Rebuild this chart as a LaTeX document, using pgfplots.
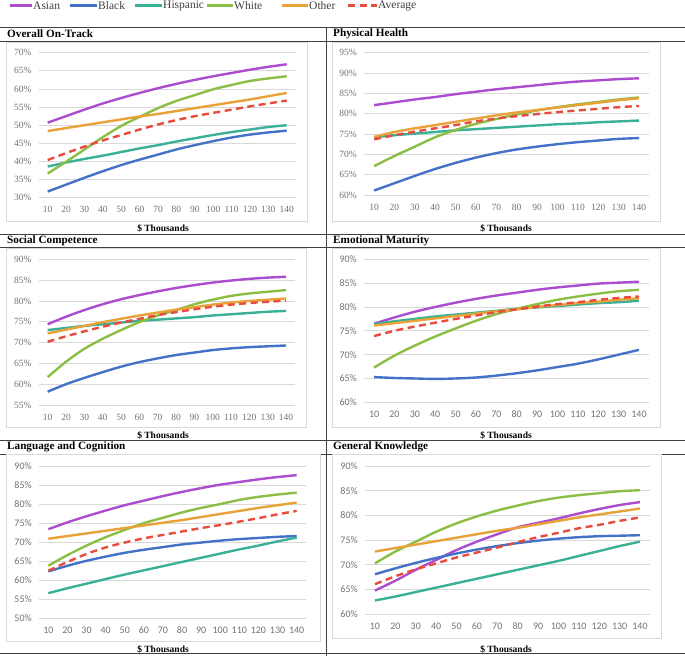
\documentclass[border=0pt]{standalone}
\usepackage{pgfplots}
\pgfplotsset{compat=1.18}
\usepackage{pgfplotstable}
\usepackage{fontspec}
\setmainfont{Liberation Serif}
\newfontfamily\tickserif{Liberation Serif}
\newfontfamily\ticksans[Numbers=Lining]{Carlito}

\definecolor{asianc}{RGB}{172,76,206}
\definecolor{blackc}{RGB}{68,114,200}
\definecolor{hispc}{RGB}{58,176,150}
\definecolor{whitec}{RGB}{140,190,70}
\definecolor{otherc}{RGB}{232,162,56}
\definecolor{avgc}{RGB}{232,76,61}
\definecolor{gridc}{RGB}{217,217,217}
\definecolor{tickc}{RGB}{115,115,115}
\definecolor{rulec}{RGB}{64,64,64}

% columns: income, Asian, Black, Hispanic, White, Other, Average
\pgfplotstableread{
x asian black hisp white other avg
10 50.7 31.7 38.6 36.7 48.4 40.4
20 52.5 33.6 39.7 39.9 49.2 42.3
30 54.3 35.5 40.7 43.3 50.0 44.1
40 56.0 37.3 41.6 46.7 50.8 45.8
50 57.5 39.0 42.6 49.8 51.6 47.3
60 58.9 40.5 43.6 52.3 52.4 48.8
70 60.2 41.9 44.5 54.7 53.1 50.2
80 61.4 43.3 45.5 56.7 53.9 51.4
90 62.5 44.5 46.4 58.3 54.7 52.5
100 63.5 45.6 47.3 59.9 55.5 53.4
110 64.4 46.6 48.1 61.1 56.3 54.3
120 65.3 47.4 48.8 62.2 57.1 55.2
130 66.1 48.0 49.5 62.9 58.0 56.0
140 66.8 48.5 50.0 63.5 58.9 56.8
}\tOverall

\pgfplotstableread{
x asian black hisp white other avg
10 82.1 61.1 74.2 67.1 74.3 73.7
20 82.8 62.9 74.7 69.6 75.5 74.7
30 83.5 64.7 75.1 71.9 76.4 75.6
40 84.1 66.4 75.5 74.2 77.2 76.4
50 84.8 67.9 75.9 76.0 78.0 77.2
60 85.4 69.2 76.2 77.5 78.8 78.1
70 86.0 70.3 76.5 78.7 79.6 78.8
80 86.5 71.2 76.8 79.8 80.3 79.4
90 87.0 71.9 77.1 80.8 80.9 79.9
100 87.5 72.5 77.4 81.6 81.5 80.4
110 87.9 73.0 77.6 82.3 82.1 80.8
120 88.2 73.4 77.9 82.9 82.7 81.2
130 88.5 73.8 78.1 83.5 83.3 81.6
140 88.7 74.0 78.3 84.0 83.8 81.9
}\tPhysical

\pgfplotstableread{
x asian black hisp white other avg
10 74.4 58.2 73.0 61.7 72.2 70.2
20 76.2 60.0 73.5 65.4 73.1 71.5
30 77.8 61.5 74.0 68.5 74.0 72.7
40 79.2 62.9 74.4 70.9 74.9 73.8
50 80.4 64.2 74.8 73.0 75.7 74.8
60 81.4 65.3 75.2 74.9 76.5 75.7
70 82.3 66.2 75.5 76.5 77.2 76.6
80 83.1 67.0 75.8 77.8 77.9 77.3
90 83.8 67.6 76.1 79.2 78.5 78.0
100 84.4 68.2 76.5 80.3 79.1 78.6
110 84.9 68.6 76.8 81.2 79.6 79.1
120 85.3 68.9 77.1 81.8 80.0 79.5
130 85.6 69.1 77.4 82.2 80.3 79.8
140 85.8 69.3 77.6 82.6 80.6 80.1
}\tSocial

\pgfplotstableread{
x asian black hisp white other avg
10 76.5 65.3 76.4 67.3 76.1 73.9
20 77.8 65.1 77.0 69.8 76.6 75.0
30 79.0 65.0 77.5 71.9 77.1 75.9
40 80.0 64.9 78.0 73.8 77.6 76.7
50 80.9 65.0 78.4 75.5 78.1 77.5
60 81.7 65.2 78.8 77.1 78.6 78.2
70 82.4 65.6 79.2 78.5 79.1 78.9
80 83.0 66.1 79.6 79.6 79.5 79.5
90 83.6 66.7 79.9 80.6 80.0 80.1
100 84.1 67.4 80.2 81.5 80.4 80.6
110 84.5 68.1 80.5 82.2 80.8 81.0
120 84.9 69.0 80.8 82.8 81.1 81.5
130 85.1 70.0 81.0 83.3 81.5 81.9
140 85.3 71.0 81.3 83.6 81.8 82.2
}\tEmotional

\pgfplotstableread{
x asian black hisp white other avg
10 73.4 62.3 56.6 63.8 70.9 62.5
20 75.2 63.8 57.9 66.6 71.6 64.8
30 76.8 65.1 59.1 69.1 72.3 66.9
40 78.3 66.2 60.3 71.3 73.0 68.6
50 79.7 67.2 61.5 73.2 73.7 69.9
60 80.9 68.0 62.6 75.0 74.4 71.0
70 82.1 68.7 63.7 76.4 75.1 71.9
80 83.2 69.4 64.8 77.8 75.8 72.8
90 84.2 69.9 65.9 79.0 76.6 73.7
100 85.1 70.4 67.0 80.0 77.4 74.5
110 85.8 70.8 68.1 81.1 78.2 75.4
120 86.5 71.1 69.1 81.9 79.0 76.3
130 87.1 71.4 70.2 82.5 79.7 77.3
140 87.6 71.6 71.2 83.0 80.4 78.2
}\tLanguage

\pgfplotstableread{
x asian black hisp white other avg
10 64.8 68.1 62.8 70.3 72.7 66.1
20 66.8 69.3 63.6 72.7 73.4 67.7
30 69.0 70.4 64.5 74.7 74.1 69.1
40 71.0 71.4 65.4 76.7 74.8 70.3
50 73.0 72.3 66.3 78.4 75.5 71.5
60 74.7 73.1 67.2 79.8 76.2 72.5
70 76.2 73.8 68.1 81.0 76.9 73.5
80 77.6 74.4 69.0 82.0 77.5 74.6
90 78.5 74.9 69.9 82.9 78.2 75.6
100 79.4 75.3 70.8 83.6 78.9 76.5
110 80.4 75.6 71.8 84.1 79.6 77.4
120 81.3 75.8 72.8 84.5 80.2 78.1
130 82.1 75.9 73.8 84.9 80.8 78.9
140 82.7 76.0 74.7 85.1 81.4 79.6
}\tGeneral

\newcommand{\sixlines}[1]{%
  \addplot[asianc] table[x=x,y=asian]{#1};
  \addplot[blackc] table[x=x,y=black]{#1};
  \addplot[hispc] table[x=x,y=hisp]{#1};
  \addplot[whitec] table[x=x,y=white]{#1};
  \addplot[otherc] table[x=x,y=other]{#1};
  \addplot[avgc, dash pattern=on 7pt off 4.5pt] table[x=x,y=avg]{#1};
}

\pgfplotsset{
  panel/.style={
    anchor=south west, scale only axis,
    xmin=5, xmax=145, xtick={10,20,...,140},
    axis line style={draw=none},
    major tick length=0pt,
    ymajorgrids, grid style={gridc, line width=0.8pt},
    /pgf/number format/assume math mode=true,
    yticklabel={\pgfmathprintnumber{\tick}\%},
    xticklabel={\pgfmathprintnumber{\tick}},
    tick label style={text=tickc},
    yticklabel style={xshift=-3.5pt},
    xticklabel style={yshift=-4.5pt, text height=7pt, text depth=0pt},
    every axis plot/.append style={line width=2.4pt, smooth, no markers},
  },
  serifticks/.style={tick label style={font=\tickserif\fontsize{9.5}{11}\selectfont}},
  sansticks/.style={tick label style={font=\ticksans\fontsize{10}{11}\selectfont}},
}

\begin{document}
\begin{tikzpicture}[x=1pt,y=1pt]
\fill[white] (0,0) rectangle (685,656);
\useasboundingbox (0,0) rectangle (685,656);

% legend
\begin{scope}[font=\fontsize{11.5}{13}\selectfont, text=rulec]
\draw[asianc, line width=2.4pt] (10,650.5) -- (32,650.5);
\node[anchor=west, inner sep=1pt] at (32,650) {Asian};
\draw[blackc, line width=2.4pt] (70,650.5) -- (97,650.5);
\node[anchor=west, inner sep=1pt] at (97,650) {Black};
\draw[hispc, line width=2.4pt] (135,650.5) -- (162,650.5);
\node[anchor=west, inner sep=1pt] at (162,650) {Hispanic};
\draw[whitec, line width=2.4pt] (207,650.5) -- (233,650.5);
\node[anchor=west, inner sep=1pt] at (233,650) {White};
\draw[otherc, line width=2.4pt] (282,650.5) -- (308,650.5);
\node[anchor=west, inner sep=1pt] at (308,650) {Other};
\draw[avgc, line width=2.4pt, dash pattern=on 7pt off 4.5pt] (348,650.5) -- (377,650.5);
\node[anchor=west, inner sep=1pt] at (377,650) {Average};
\end{scope}

% table rules
\begin{scope}[rulec, line width=0.9pt]
\draw (0,629) -- (685,629);
\draw (0,615) -- (685,615);
\draw (0,421.5) -- (685,421.5);
\draw (0,408.5) -- (685,408.5);
\draw (0,216) -- (685,216);
\draw (0,202) -- (685,202);
\draw (0,2.5) -- (685,2.5);
\draw (326.7,629) -- (326.7,0);
\end{scope}

% chart area frames
\begin{scope}[gridc, line width=0.8pt]
\draw (6,614) rectangle (307,435);
\draw (332,614) rectangle (660,435);
\draw (6,408) rectangle (306,229);
\draw (332,408) rectangle (660,229);
\draw (6,202) rectangle (320,15);
\draw (332,202) rectangle (661,18);
\end{scope}

% titles and axis labels
\begin{scope}[font=\bfseries\fontsize{11.2}{13}\selectfont]
\node[anchor=west, inner sep=0pt] at (7,622) {Overall On-Track};
\node[anchor=west, inner sep=0pt] at (333,622) {Physical Health};
\node[anchor=west, inner sep=0pt] at (7,415) {Social Competence};
\node[anchor=west, inner sep=0pt] at (333,415) {Emotional Maturity};
\node[anchor=west, inner sep=0pt] at (7,209) {Language and Cognition};
\node[anchor=west, inner sep=0pt] at (333,209) {General Knowledge};
\end{scope}
\begin{scope}[font=\bfseries\fontsize{9.5}{11}\selectfont]
\node at (163,428) {\$ Thousands};
\node at (506,428) {\$ Thousands};
\node at (163,221) {\$ Thousands};
\node at (506,221) {\$ Thousands};
\node at (163,6.5) {\$ Thousands};
\node at (506,6.5) {\$ Thousands};
\end{scope}

\begin{axis}[panel, serifticks, at={(38.5pt,458.3pt)}, width=257.4pt, height=145pt,
  ymin=30, ymax=70, ytick={30,35,...,70}]
\sixlines{\tOverall}
\end{axis}

\begin{axis}[panel, serifticks, at={(363.9pt,461pt)}, width=285.3pt, height=142.3pt,
  ymin=60, ymax=95, ytick={60,65,...,95}]
\sixlines{\tPhysical}
\end{axis}

\begin{axis}[panel, serifticks, at={(38.5pt,251pt)}, width=256.7pt, height=145.7pt,
  ymin=55, ymax=90, ytick={55,60,...,90}]
\sixlines{\tSocial}
\end{axis}

\begin{axis}[panel, sansticks, at={(363.9pt,253.7pt)}, width=285.3pt, height=143pt,
  ymin=60, ymax=90, ytick={60,65,...,90}]
\sixlines{\tEmotional}
\end{axis}

\begin{axis}[panel, sansticks, at={(38.8pt,37.7pt)}, width=267.4pt, height=152.3pt,
  ymin=50, ymax=90, ytick={50,55,...,90}]
\sixlines{\tLanguage}
\end{axis}

\begin{axis}[panel, sansticks, at={(364.8pt,41.7pt)}, width=285.4pt, height=148.3pt,
  ymin=60, ymax=90, ytick={60,65,...,90}]
\sixlines{\tGeneral}
\end{axis}
\end{tikzpicture}
\end{document}
